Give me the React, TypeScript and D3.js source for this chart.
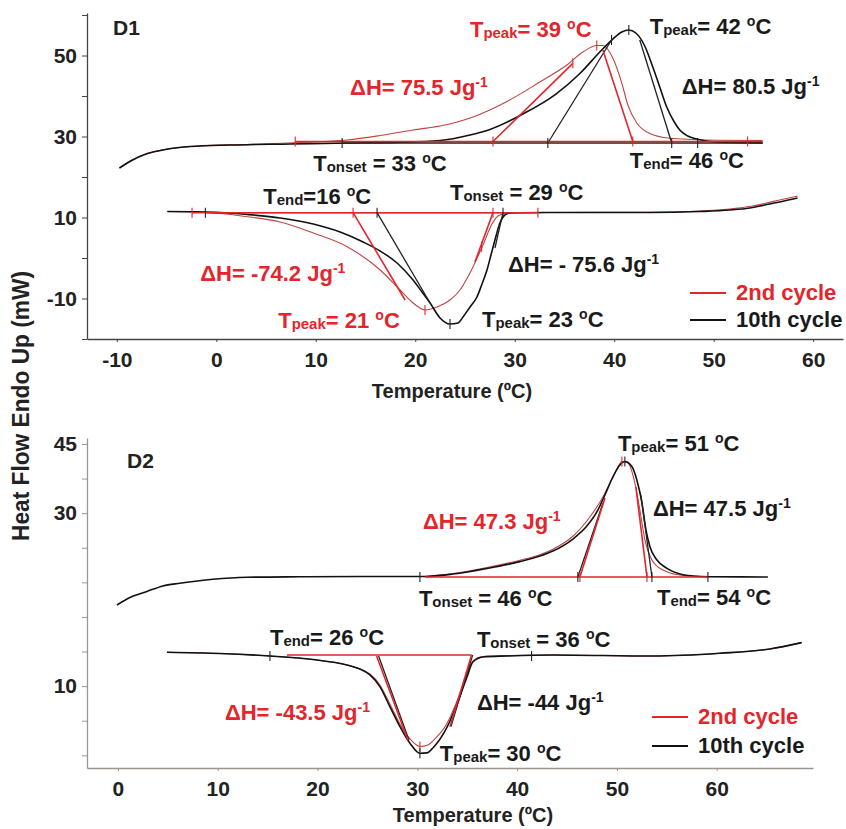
import { useEffect, useRef } from 'react'
import * as d3 from 'd3'

type Pt = [number, number]

// ---- axes --------------------------------------------------------------
const X_TICKS_D1 = [-10, 0, 10, 20, 30, 40, 50, 60]
const Y_TICKS_D1 = [-20, -10, 0, 10, 20, 30, 40, 50, 60]
const Y_LABELS_D1 = ['', '-10', '', '10', '', '30', '', '50', '']
const X_TICKS_D2 = [0, 10, 20, 30, 40, 50, 60]
const Y_TICKS_D2 = [45, 37.5, 30, 22.5, 15, 7.5, 0, -7.5, -15, -22.5]
const Y_LABELS_D2 = ['45', '', '30', '', '', '', '', '10', '', '']

// ---- D1 scans: [T (ºC), heat flow (mW)] --------------------------------
const D1_HEAT_10TH: Pt[] = [
  [-9.74, 22.22], [-8.63, 23.95], [-6.93, 25.8], [-5.12, 26.79], [-2.61, 27.53], [1.41, 27.9],
  [7.43, 28.15], [13.45, 28.4], [18.47, 28.57], [22.49, 29.01], [25.5, 30.37], [27.51, 31.73],
  [30.82, 35.56], [34.14, 40.49], [36.55, 45.56], [38.55, 50.86], [39.86, 54.07], [40.76, 55.8],
  [41.47, 56.3], [42.17, 55.56], [43.07, 52.35], [43.88, 47.16], [44.58, 42.22], [45.28, 37.28],
  [45.98, 33.83], [46.59, 31.6], [47.39, 30.12], [48.29, 29.38], [49.6, 28.77], [51.61, 28.52],
  [54.92, 28.44],
]
const D1_HEAT_2ND: Pt[] = [
  [-9.74, 22.22], [-6.93, 25.8], [-2.61, 27.53], [3.41, 28.07], [8.43, 28.52], [13.15, 29.14],
  [16.47, 30.25], [19.78, 31.6], [22.99, 32.84], [25.8, 34.81], [29.22, 38.64], [32.53, 43.46],
  [35.24, 47.65], [36.85, 50.86], [38.25, 52.47], [38.86, 52.47], [39.86, 49.38], [40.76, 43.21],
  [41.37, 37.78], [42.27, 33.33], [43.57, 30.74], [45.58, 29.56], [47.89, 29.26], [50.6, 29.09],
  [54.92, 29.01],
]
const D1_COOL_10TH: Pt[] = [
  [-4.92, 11.48], [-2.61, 11.41], [0.4, 11.23], [3.11, 10.74], [6.43, 9.88], [9.74, 8.4],
  [12.45, 6.42], [14.76, 3.95], [16.47, 1.73], [18.17, -1.23], [19.78, -5.43], [20.68, -8.4],
  [21.49, -11.11], [22.49, -14.81], [23.49, -16.3], [24.3, -16.05], [24.8, -14.57], [25.5, -12.1],
  [26.2, -9.63], [26.71, -6.42], [27.21, -2.96], [27.61, 0.74], [28.01, 4.44], [28.51, 8.64],
  [29.02, 10.62], [29.52, 11.11], [30.22, 11.19], [33.53, 11.23], [38.55, 11.23], [43.57, 11.23],
  [48.59, 11.48], [51.61, 11.85], [53.61, 12.35], [55.12, 13.09], [56.63, 13.83], [58.43, 14.81],
]
const D1_COOL_2ND: Pt[] = [
  [-4.92, 11.48], [-1.61, 11.36], [3.11, 10.2], [6.43, 8.89], [9.74, 6.17], [13.15, 2.79],
  [16.47, -2.96], [18.47, -7.9], [19.78, -11.11], [20.48, -12.35], [20.98, -12.84], [22.19, -12.1],
  [23.49, -10.37], [24.5, -7.9], [25.5, -3.7], [26.81, 3.21], [27.71, 8.4], [28.31, 10.37],
  [29.02, 10.99], [30.02, 11.16], [33.53, 11.23], [43.57, 11.31], [48.59, 11.6], [51.61, 12.1],
  [53.61, 12.72], [55.12, 13.46], [56.63, 14.32], [58.43, 15.31],
]
// baselines and tangents used for onset / end / ΔH
const D1_LINES_2ND: Pt[][] = [
  [[7.93, 28.77], [54.92, 28.77]], [[27.81, 28.77], [35.84, 48.07]], [[38.86, 51.36], [41.87, 28.77]],
  [[-2.44, 11.19], [32.33, 11.19]], [[13.75, 11.19], [18.98, -10.37]], [[27.81, 11.19], [26.0, -0.99]],
]
const D1_LINES_10TH: Pt[][] = [
  [[12.65, 28.4], [54.92, 28.4]], [[33.33, 28.4], [39.73, 53.83]], [[42.57, 53.83], [45.78, 28.4]],
  [[-1.1, 11.19], [28.82, 11.19]], [[16.16, 11.19], [21.49, -11.11]], [[28.82, 11.19], [28.01, 2.47]],
]
const D1_MARKS_2ND: Pt[] = [
  [7.93, 28.77], [27.81, 28.77], [41.87, 28.77], [53.41, 28.77], [35.84, 48.07], [38.25, 52.47],
  [-2.44, 11.19], [13.75, 11.19], [27.81, 11.19], [32.33, 11.19], [20.98, -12.84], [26.67, 2.79],
]
const D1_MARKS_10TH: Pt[] = [
  [12.65, 28.4], [33.33, 28.4], [45.78, 28.4], [48.39, 28.4], [39.73, 53.83], [41.47, 56.3],
  [-1.1, 11.19], [16.16, 11.19], [28.82, 11.19], [23.49, -16.3],
]

// ---- D2 scans ----------------------------------------------------------
const D2_HEAT_10TH: Pt[] = [
  [-0.1, 10.1], [1.2, 11.72], [2.91, 13.03], [4.51, 14.22], [6.21, 14.8], [9.52, 15.67],
  [12.93, 16.1], [18.24, 16.21], [24.25, 16.28], [30.76, 16.28], [33.57, 16.8], [36.97, 18.0],
  [40.28, 19.5], [42.28, 20.7], [43.59, 21.8], [45.59, 24.4], [46.99, 27.2], [47.99, 30.26],
  [48.8, 33.94], [49.5, 37.41], [50.3, 40.45], [50.8, 41.21], [51.5, 40.12], [52.0, 37.2],
  [52.51, 32.21], [52.91, 26.36], [53.31, 22.74], [54.01, 19.85], [55.01, 18.05], [56.31, 16.82],
  [57.62, 16.39], [59.32, 16.21], [65.13, 16.17],
]
const D2_HEAT_2ND: Pt[] = [
  [30.76, 16.28], [33.57, 16.9], [36.97, 18.2], [40.28, 19.8], [42.28, 21.0], [43.59, 22.2],
  [45.59, 25.0], [47.29, 29.18], [48.6, 33.51], [49.6, 37.85], [50.1, 40.01], [50.5, 41.21],
  [51.1, 40.88], [51.8, 36.55], [52.3, 30.69], [52.81, 24.19], [53.51, 19.85], [54.61, 17.69],
  [56.31, 16.6], [58.32, 16.28], [59.12, 16.2],
]
const D2_COOL_10TH: Pt[] = [
  [4.91, -0.15], [10.22, -0.42], [15.23, -0.96], [19.54, -1.72], [22.95, -2.91], [24.25, -3.78],
  [25.25, -5.08], [26.25, -7.61], [27.25, -11.95], [28.26, -16.28], [29.26, -19.88], [30.26, -22.05],
  [30.96, -21.98], [31.56, -20.9], [32.94, -16.57], [33.94, -11.58], [34.94, -5.73], [35.57, -2.26],
  [36.57, -1.17], [38.98, -0.96], [43.59, -0.74], [53.61, -0.96], [60.32, -0.37], [65.33, 0.56],
  [68.51, 1.93],
]
const D2_COOL_2ND: Pt[] = [
  [4.91, -0.15], [10.22, -0.42], [15.23, -0.96], [19.54, -1.72], [22.95, -2.91], [24.25, -3.78],
  [25.25, -4.86], [26.25, -7.24], [27.25, -11.36], [28.26, -15.7], [29.26, -18.95], [30.26, -20.58],
  [31.06, -20.25], [31.86, -18.73], [32.94, -15.7], [33.94, -10.93], [34.94, -5.29], [35.57, -2.04],
  [36.57, -1.07], [38.98, -0.89], [43.59, -0.74], [53.61, -0.96], [60.32, -0.37], [65.33, 0.56],
  [68.51, 1.93],
]
const D2_LINES_2ND: Pt[][] = [
  [[30.76, 16.17], [59.12, 16.17]], [[46.29, 16.17], [48.8, 33.29]], [[51.9, 35.68], [53.01, 16.17]],
  [[16.93, -0.74], [35.44, -0.74]], [[25.92, -0.96], [29.06, -19.17]], [[35.44, -0.74], [33.27, -16.28]],
]
const D2_LINES_10TH: Pt[][] = [
  [[46.09, 16.17], [48.6, 32.21]], [[52.4, 33.94], [53.51, 16.17]],
  [[26.12, -0.96], [29.16, -19.17]], [[35.54, -0.74], [33.37, -16.28]],
]
const D2_MARKS_2ND: Pt[] = [[46.29, 16.17], [53.01, 16.17], [50.5, 41.21], [30.26, -20.58]]
const D2_MARKS_10TH: Pt[] = [
  [30.26, 16.17], [46.09, 16.17], [53.51, 16.17], [59.12, 16.17], [50.8, 41.21],
  [15.23, -0.96], [41.45, -0.96], [30.26, -22.05],
]

// ---- annotations ([T, mW] anchor = left end of baseline) ---------------
const D1_NOTES: { at: Pt, text: string, red?: boolean }[] = [
  { at: [25.5, 54.57], text: 'T_{peak}= 39 ^{o}C', red: true },
  { at: [43.57, 55.31], text: 'T_{peak}= 42 ^{o}C' },
  { at: [13.45, 40.25], text: 'ΔH= 75.5 Jg^{-1}', red: true },
  { at: [46.79, 40.49], text: 'ΔH= 80.5 Jg^{-1}' },
  { at: [9.74, 21.48], text: 'T_{onset} = 33 ^{o}C' },
  { at: [41.57, 22.22], text: 'T_{end}= 46 ^{o}C' },
  { at: [4.72, 13.33], text: 'T_{end}=16 ^{o}C' },
  { at: [23.49, 14.32], text: 'T_{onset} = 29 ^{o}C' },
  { at: [-1.61, -5.68], text: 'ΔH= -74.2 Jg^{-1}', red: true },
  { at: [29.32, -3.46], text: 'ΔH= - 75.6 Jg^{-1}' },
  { at: [6.22, -17.28], text: 'T_{peak}= 21 ^{o}C', red: true },
  { at: [26.71, -17.04], text: 'T_{peak}= 23 ^{o}C' },
]
const D2_NOTES: { at: Pt, text: string, red?: boolean }[] = [
  { at: [50.1, 43.48], text: 'T_{peak}= 51 ^{o}C' },
  { at: [30.56, 26.57], text: 'ΔH= 47.3 Jg^{-1}', red: true },
  { at: [53.61, 29.39], text: 'ΔH= 47.5 Jg^{-1}' },
  { at: [30.16, 9.88], text: 'T_{onset} = 46 ^{o}C' },
  { at: [54.01, 10.1], text: 'T_{end}= 54 ^{o}C' },
  { at: [15.23, 1.43], text: 'T_{end}= 26 ^{o}C' },
  { at: [35.97, 0.99], text: 'T_{onset} = 36 ^{o}C' },
  { at: [10.72, -14.83], text: 'ΔH= -43.5 Jg^{-1}', red: true },
  { at: [35.97, -12.66], text: 'ΔH= -44 Jg^{-1}' },
  { at: [32.26, -23.72], text: 'T_{peak}= 30 ^{o}C' },
]
const SERIES = ['2nd cycle', '10th cycle']

const FONT = '"Liberation Sans", Arial, Helvetica, sans-serif'
const RED_TXT = '#e3252c'
const RED_LINE = '#e0262b'
const RED_CURVE = '#bf4444'
const BLK = '#111'

function addRich(g: any, x: number, y: number, text: string, color: string, size: number) {
  const t = g.append('text').attr('x', x).attr('y', y).attr('fill', color)
    .attr('font-size', size).attr('font-weight', 'bold').attr('font-family', FONT)
    .style('white-space', 'pre')
  let off = 0
  text.split(/(_\{[^}]*\}|\^\{[^}]*\})/).filter(s => s.length).forEach(s => {
    let kind = ''
    let str = s
    if (s.startsWith('_{')) { kind = 'sub'; str = s.slice(2, -1) }
    if (s.startsWith('^{')) { kind = 'sup'; str = s.slice(2, -1) }
    const target = kind === 'sup' ? -size * 0.38 : kind === 'sub' ? size * 0.04 : 0
    t.append('tspan').attr('dy', target - off)
      .attr('font-size', kind === 'sub' ? size * 0.68 : kind === 'sup' ? size * 0.64 : size)
      .text(str)
    off = target
  })
}

export default function App() {
  const svgRef = useRef<SVGSVGElement>(null)

  useEffect(() => {
    const svg = d3.select(svgRef.current)
    svg.selectAll('*').remove()

    const panels = [
      {
        name: 'D1', xDomain: [-13, 63], yDomain: [-20, 60.5], left: 87, right: 843, top: 13, bottom: 339,
        xTicks: X_TICKS_D1, yTicks: Y_TICKS_D1, yLabels: Y_LABELS_D1, axisColor: '#444',
        heat: [D1_HEAT_2ND, D1_HEAT_10TH], cool: [D1_COOL_2ND, D1_COOL_10TH],
        lines: [D1_LINES_2ND, D1_LINES_10TH], marks: [D1_MARKS_2ND, D1_MARKS_10TH], notes: D1_NOTES,
        tag: [113, 35], legend: [690, 293, 27], title: [452, 398],
      },
      {
        name: 'D2', xDomain: [-3.1, 69.65], yDomain: [-25.25, 46.3], left: 87, right: 813, top: 438, bottom: 768,
        xTicks: X_TICKS_D2, yTicks: Y_TICKS_D2, yLabels: Y_LABELS_D2, axisColor: '#9a9590',
        heat: [D2_HEAT_2ND, D2_HEAT_10TH], cool: [D2_COOL_2ND, D2_COOL_10TH],
        lines: [D2_LINES_2ND, D2_LINES_10TH], marks: [D2_MARKS_2ND, D2_MARKS_10TH], notes: D2_NOTES,
        tag: [127, 468], legend: [652, 717, 29], title: [473, 822],
      },
    ]

    panels.forEach(p => {
      const x = d3.scaleLinear().domain(p.xDomain).range([p.left, p.right])
      const y = d3.scaleLinear().domain(p.yDomain).range([p.bottom, p.top])
      const g = svg.append('g')

      // axes
      g.append('g').attr('transform', `translate(${p.left},0)`)
        .call(d3.axisLeft(y).tickValues(p.yTicks).tickSize(5).tickSizeOuter(0).tickPadding(5)
          .tickFormat((_, i) => p.yLabels[i]))
        .call(a => {
          a.select('.domain').attr('stroke', p.axisColor).attr('stroke-width', 1.3)
          a.selectAll('.tick line').attr('stroke', p.axisColor)
          a.selectAll('.tick text').attr('fill', '#222').attr('font-size', 21).attr('font-weight', 'bold')
            .attr('font-family', FONT)
        })
      g.append('g').attr('transform', `translate(0,${p.bottom})`)
        .call(d3.axisBottom(x).tickValues(p.xTicks).tickSize(3).tickSizeOuter(0).tickPadding(10)
          .tickFormat(d => String(d)))
        .call(a => {
          a.select('.domain').attr('stroke', p.axisColor).attr('stroke-width', 1.3)
          a.selectAll('.tick line').attr('stroke', p.axisColor)
          a.selectAll('.tick text').attr('fill', '#222').attr('font-size', 21).attr('font-weight', 'bold')
            .attr('font-family', FONT)
        })
      g.append('text').attr('x', p.title[0]).attr('y', p.title[1]).attr('text-anchor', 'middle')
        .attr('font-size', 20).attr('font-weight', 'bold').attr('font-family', FONT).attr('fill', '#222')
        .text('Temperature (ºC)')
      g.append('text').attr('x', p.tag[0]).attr('y', p.tag[1])
        .attr('font-size', 21).attr('font-weight', 'bold').attr('font-family', FONT).attr('fill', '#222')
        .text(p.name)

      const line = d3.line<Pt>().x(d => x(d[0])).y(d => y(d[1])).curve(d3.curveMonotoneX)
      const seg = d3.line<Pt>().x(d => x(d[0])).y(d => y(d[1]))

      // scans: 2nd cycle (thin red) under 10th cycle (black)
      ;[...p.heat, ...p.cool].forEach((data, i) => {
        const red = i % 2 === 0
        g.append('path').datum(data).attr('d', line).attr('fill', 'none')
          .attr('stroke', red ? RED_CURVE : BLK).attr('stroke-width', red ? 1.1 : 1.6)
      })
      // constructions
      p.lines[1].forEach(s => {
        g.append('path').datum(s).attr('d', seg).attr('stroke', '#222').attr('stroke-width', 1.3)
      })
      p.lines[0].forEach(s => {
        g.append('path').datum(s).attr('d', seg).attr('stroke', RED_LINE).attr('stroke-width', 1.6)
      })
      p.marks.forEach((ms, i) => {
        g.selectAll(null).data(ms).join('line')
          .attr('x1', d => x(d[0])).attr('x2', d => x(d[0]))
          .attr('y1', d => y(d[1]) - 5).attr('y2', d => y(d[1]) + 5)
          .attr('stroke', i === 0 ? RED_LINE : '#222').attr('stroke-width', 1.1)
      })

      p.notes.forEach(n => addRich(g, x(n.at[0]), y(n.at[1]), n.text, n.red ? RED_TXT : '#1a1a1a', 22))

      // legend
      const [lx, ly, dy] = p.legend
      SERIES.forEach((s, i) => {
        const c = i === 0 ? RED_LINE : '#111'
        g.append('line').attr('x1', lx).attr('x2', lx + 36).attr('y1', ly + i * dy).attr('y2', ly + i * dy)
          .attr('stroke', c).attr('stroke-width', 2)
        g.append('text').attr('x', lx + 46).attr('y', ly + i * dy + 7).attr('fill', i === 0 ? RED_TXT : '#1a1a1a')
          .attr('font-size', 22).attr('font-weight', 'bold').attr('font-family', FONT).text(s)
      })
    })

    svg.append('text').attr('transform', 'translate(29,406) rotate(-90)').attr('text-anchor', 'middle')
      .attr('font-size', 23).attr('font-weight', 'bold').attr('font-family', FONT).attr('fill', '#222')
      .attr('textLength', 270).attr('lengthAdjust', 'spacingAndGlyphs')
      .text('Heat Flow Endo Up (mW)')
  }, [])

  return (
    <svg ref={svgRef} width={846} height={829}
      style={{ position: 'absolute', left: 0, top: 0, background: '#fff', display: 'block' }} />
  )
}
